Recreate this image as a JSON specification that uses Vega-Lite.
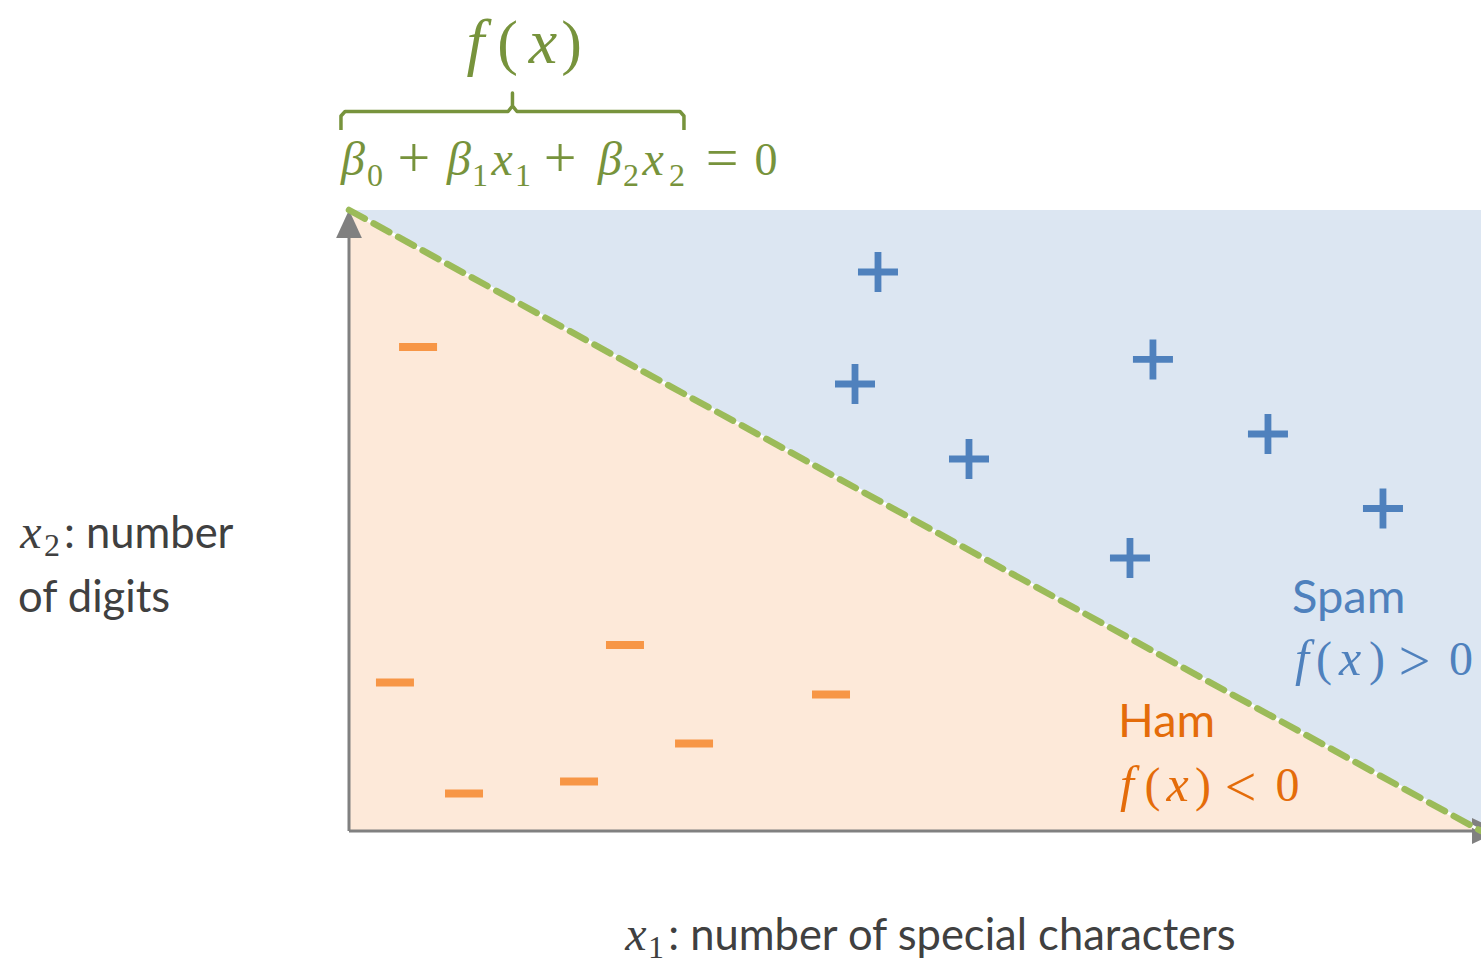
{
  "$schema": "https://vega.github.io/schema/vega-lite/v6.json",
  "autosize": "none",
  "width": 1132,
  "height": 621,
  "padding": {"left": 349, "top": 210, "right": 0, "bottom": 129},
  "background": "white",
  "config": {"view": {"stroke": null}},
  "datasets": {
    "boundary": [
      {"x1": 0, "x2": 10},
      {"x1": 10, "x2": 0}
    ],
    "spam": [
      {"x1": 4.673, "x2": 9.002},
      {"x1": 4.470, "x2": 7.198},
      {"x1": 7.102, "x2": 7.593},
      {"x1": 5.477, "x2": 5.990},
      {"x1": 8.118, "x2": 6.393},
      {"x1": 9.134, "x2": 5.193},
      {"x1": 6.899, "x2": 4.396}
    ],
    "ham": [
      {"x1": 0.610, "x2": 7.794},
      {"x1": 0.406, "x2": 2.391},
      {"x1": 2.438, "x2": 2.995},
      {"x1": 1.016, "x2": 0.604},
      {"x1": 2.032, "x2": 0.797},
      {"x1": 3.048, "x2": 1.409},
      {"x1": 4.258, "x2": 2.198}
    ],
    "brace": [
      {"i": 1, "x1": -0.071, "x2": 11.288},
      {"i": 2, "x1": -0.071, "x2": 11.514},
      {"i": 3, "x1": -0.035, "x2": 11.586},
      {"i": 4, "x1": 1.405, "x2": 11.586},
      {"i": 5, "x1": 1.444, "x2": 11.675},
      {"i": 6, "x1": 1.444, "x2": 11.884},
      {"i": 7, "x1": 1.444, "x2": 11.675},
      {"i": 8, "x1": 1.484, "x2": 11.586},
      {"i": 9, "x1": 2.924, "x2": 11.586},
      {"i": 10, "x1": 2.959, "x2": 11.514},
      {"i": 11, "x1": 2.959, "x2": 11.288}
    ],
    "regionMath": [
      {"x1": 8.419, "x2": 2.512, "t": "f", "part": "symbol", "c": "spam"},
      {"x1": 8.613, "x2": 2.512, "t": "(", "part": "operator", "c": "spam"},
      {"x1": 8.843, "x2": 2.512, "t": "x", "part": "symbol", "c": "spam"},
      {"x1": 9.081, "x2": 2.512, "t": ")", "part": "operator", "c": "spam"},
      {"x1": 9.413, "x2": 2.512, "t": ">", "part": "relation", "c": "spam"},
      {"x1": 9.823, "x2": 2.512, "t": "0", "part": "operator", "c": "spam"},
      {"x1": 6.873, "x2": 0.483, "t": "f", "part": "symbol", "c": "ham"},
      {"x1": 7.098, "x2": 0.483, "t": "(", "part": "operator", "c": "ham"},
      {"x1": 7.319, "x2": 0.483, "t": "x", "part": "symbol", "c": "ham"},
      {"x1": 7.544, "x2": 0.483, "t": ")", "part": "operator", "c": "ham"},
      {"x1": 7.876, "x2": 0.483, "t": "<", "part": "relation", "c": "ham"},
      {"x1": 8.291, "x2": 0.483, "t": "0", "part": "operator", "c": "ham"}
    ],
    "titleMath": [
      {"x1": 1.117, "x2": 12.367, "t": "f", "part": "symbol"},
      {"x1": 1.400, "x2": 12.367, "t": "(", "part": "operator"},
      {"x1": 1.714, "x2": 12.367, "t": "x", "part": "symbol"},
      {"x1": 1.966, "x2": 12.367, "t": ")", "part": "operator"}
    ],
    "equation": [
      {"x1": 0.035, "x2": 10.564, "t": "β", "part": "symbol"},
      {"x1": 0.230, "x2": 10.386, "t": "0", "part": "index"},
      {"x1": 0.574, "x2": 10.564, "t": "+", "part": "relation"},
      {"x1": 0.972, "x2": 10.564, "t": "β", "part": "symbol"},
      {"x1": 1.157, "x2": 10.386, "t": "1", "part": "index"},
      {"x1": 1.352, "x2": 10.564, "t": "x", "part": "symbol"},
      {"x1": 1.537, "x2": 10.386, "t": "1", "part": "index"},
      {"x1": 1.864, "x2": 10.564, "t": "+", "part": "relation"},
      {"x1": 2.306, "x2": 10.564, "t": "β", "part": "symbol"},
      {"x1": 2.491, "x2": 10.386, "t": "2", "part": "index"},
      {"x1": 2.686, "x2": 10.564, "t": "x", "part": "symbol"},
      {"x1": 2.898, "x2": 10.386, "t": "2", "part": "index"},
      {"x1": 3.295, "x2": 10.564, "t": "=", "part": "relation"},
      {"x1": 3.684, "x2": 10.564, "t": "0", "part": "operator"}
    ],
    "axisMath": [
      {"x1": -2.809, "x2": 4.557, "t": "x", "part": "symbol"},
      {"x1": -2.624, "x2": 4.428, "t": "2", "part": "index"},
      {"x1": 2.535, "x2": -1.916, "t": "x", "part": "symbol"},
      {"x1": 2.712, "x2": -2.045, "t": "1", "part": "index"}
    ]
  },
  "encoding": {
    "x": {"field": "x1", "type": "quantitative", "scale": {"domain": [0, 10], "nice": false, "zero": false}, "axis": null},
    "y": {"field": "x2", "type": "quantitative", "scale": {"domain": [0, 10], "nice": false, "zero": false}, "axis": null}
  },
  "layer": [
    {
      "data": {"name": "boundary"},
      "mark": {"type": "area", "color": "#fde9d9", "opacity": 1},
      "encoding": {"y2": {"datum": 0}}
    },
    {
      "data": {"name": "boundary"},
      "mark": {"type": "area", "color": "#dce6f2", "opacity": 1},
      "encoding": {"y2": {"datum": 10}}
    },
    {
      "data": {"values": [{"x1": 0, "x2": 0, "xe": 0, "ye": 9.76}, {"x1": 0, "x2": 0, "xe": 10, "ye": 0}]},
      "mark": {"type": "rule", "color": "#808080", "strokeWidth": 3},
      "encoding": {
        "x2": {"field": "xe"},
        "y2": {"field": "ye"}
      }
    },
    {
      "data": {"values": [{"x1": 0, "x2": 10}]},
      "mark": {"type": "point", "shape": "M-0.92,2L0.92,2L0,0Z", "size": 784, "filled": true, "color": "#808080", "opacity": 1, "strokeWidth": 0}
    },
    {
      "data": {"values": [{"x1": 10.168, "x2": 0}]},
      "mark": {"type": "point", "shape": "M0,0L-2,-0.92L-2,0.92Z", "size": 784, "filled": true, "color": "#808080", "opacity": 1, "strokeWidth": 0}
    },
    {
      "data": {"name": "boundary"},
      "mark": {"type": "line", "color": "white", "strokeWidth": 3}
    },
    {
      "data": {"name": "boundary"},
      "mark": {"type": "line", "color": "#9bbb59", "strokeWidth": 6.5, "strokeDash": [18, 10], "strokeCap": "round"}
    },
    {
      "data": {"name": "spam"},
      "mark": {"type": "point", "shape": "M-1,-0.17H-0.17V-1H0.17V-0.17H1V0.17H0.17V1H-0.17V0.17H-1Z", "size": 1600, "filled": true, "color": "#4f81bd", "opacity": 1, "strokeWidth": 0}
    },
    {
      "data": {"name": "ham"},
      "mark": {"type": "point", "shape": "M-1,-0.21H1V0.21H-1Z", "size": 1444, "filled": true, "color": "#f79646", "opacity": 1, "strokeWidth": 0}
    },
    {
      "data": {"name": "brace"},
      "mark": {"type": "line", "color": "#77933c", "strokeWidth": 3.5, "strokeJoin": "round", "strokeCap": "butt"},
      "encoding": {"order": {"field": "i", "type": "quantitative"}}
    },
    {
      "data": {"name": "titleMath"},
      "transform": [{"filter": "datum.part === 'symbol'"}],
      "mark": {"type": "text", "font": "Liberation Serif", "fontStyle": "italic", "fontSize": 64, "align": "center", "baseline": "alphabetic", "color": "#77933c"},
      "encoding": {"text": {"field": "t"}}
    },
    {
      "data": {"name": "titleMath"},
      "transform": [{"filter": "datum.part === 'operator'"}],
      "mark": {"type": "text", "font": "Liberation Serif", "fontSize": 62, "align": "center", "baseline": "alphabetic", "color": "#77933c"},
      "encoding": {"text": {"field": "t"}}
    },
    {
      "data": {"name": "equation"},
      "transform": [{"filter": "datum.part === 'symbol'"}],
      "mark": {"type": "text", "font": "Liberation Serif", "fontStyle": "italic", "fontSize": 48, "align": "center", "baseline": "alphabetic", "color": "#77933c"},
      "encoding": {"text": {"field": "t"}}
    },
    {
      "data": {"name": "equation"},
      "transform": [{"filter": "datum.part === 'operator'"}],
      "mark": {"type": "text", "font": "Liberation Serif", "fontSize": 46, "align": "center", "baseline": "alphabetic", "color": "#77933c"},
      "encoding": {"text": {"field": "t"}}
    },
    {
      "data": {"name": "equation"},
      "transform": [{"filter": "datum.part === 'relation'"}],
      "mark": {"type": "text", "font": "Liberation Serif", "fontSize": 58, "align": "center", "baseline": "alphabetic", "dy": 2, "color": "#77933c"},
      "encoding": {"text": {"field": "t"}}
    },
    {
      "data": {"name": "equation"},
      "transform": [{"filter": "datum.part === 'index'"}],
      "mark": {"type": "text", "font": "Liberation Serif", "fontSize": 32, "align": "center", "baseline": "alphabetic", "color": "#77933c"},
      "encoding": {"text": {"field": "t"}}
    },
    {
      "data": {"name": "regionMath"},
      "transform": [{"filter": "datum.part === 'symbol'"}],
      "mark": {"type": "text", "font": "Liberation Serif", "fontStyle": "italic", "fontSize": 50, "align": "center", "baseline": "alphabetic"},
      "encoding": {
        "text": {"field": "t"},
        "color": {"field": "c", "type": "nominal", "scale": {"domain": ["spam", "ham"], "range": ["#4f81bd", "#e46c0a"]}, "legend": null}
      }
    },
    {
      "data": {"name": "regionMath"},
      "transform": [{"filter": "datum.part === 'operator'"}],
      "mark": {"type": "text", "font": "Liberation Serif", "fontSize": 48, "align": "center", "baseline": "alphabetic"},
      "encoding": {
        "text": {"field": "t"},
        "color": {"field": "c", "type": "nominal", "scale": {"domain": ["spam", "ham"], "range": ["#4f81bd", "#e46c0a"]}, "legend": null}
      }
    },
    {
      "data": {"name": "regionMath"},
      "transform": [{"filter": "datum.part === 'relation'"}],
      "mark": {"type": "text", "font": "Liberation Serif", "fontSize": 56, "align": "center", "baseline": "alphabetic", "dy": 5},
      "encoding": {
        "text": {"field": "t"},
        "color": {"field": "c", "type": "nominal", "scale": {"domain": ["spam", "ham"], "range": ["#4f81bd", "#e46c0a"]}, "legend": null}
      }
    },
    {
      "data": {"name": "axisMath"},
      "transform": [{"filter": "datum.part === 'symbol'"}],
      "mark": {"type": "text", "font": "Liberation Serif", "fontStyle": "italic", "fontSize": 48, "align": "center", "baseline": "alphabetic", "color": "#404040"},
      "encoding": {"text": {"field": "t"}}
    },
    {
      "data": {"name": "axisMath"},
      "transform": [{"filter": "datum.part === 'index'"}],
      "mark": {"type": "text", "font": "Liberation Serif", "fontSize": 32, "align": "center", "baseline": "alphabetic", "color": "#404040"},
      "encoding": {"text": {"field": "t"}}
    },
    {
      "data": {"values": [
        {"x1": 8.330, "x2": 3.510, "t": "Spam", "c": "spam"},
        {"x1": 6.793, "x2": 1.514, "t": "Ham", "c": "ham"}
      ]},
      "mark": {"type": "text", "font": "Lato", "fontSize": 47, "align": "left", "baseline": "alphabetic"},
      "encoding": {
        "text": {"field": "t"},
        "color": {"field": "c", "type": "nominal", "scale": {"domain": ["spam", "ham"], "range": ["#4f81bd", "#e46c0a"]}, "legend": null}
      }
    },
    {
      "data": {"values": [
        {"x1": -2.518, "x2": 4.557, "t": ": number"},
        {"x1": -2.924, "x2": 3.527, "t": "of digits"},
        {"x1": 2.820, "x2": -1.916, "t": ": number of special characters"}
      ]},
      "mark": {"type": "text", "font": "Lato", "fontSize": 43.5, "align": "left", "baseline": "alphabetic", "color": "#404040"},
      "encoding": {"text": {"field": "t"}}
    }
  ]
}
